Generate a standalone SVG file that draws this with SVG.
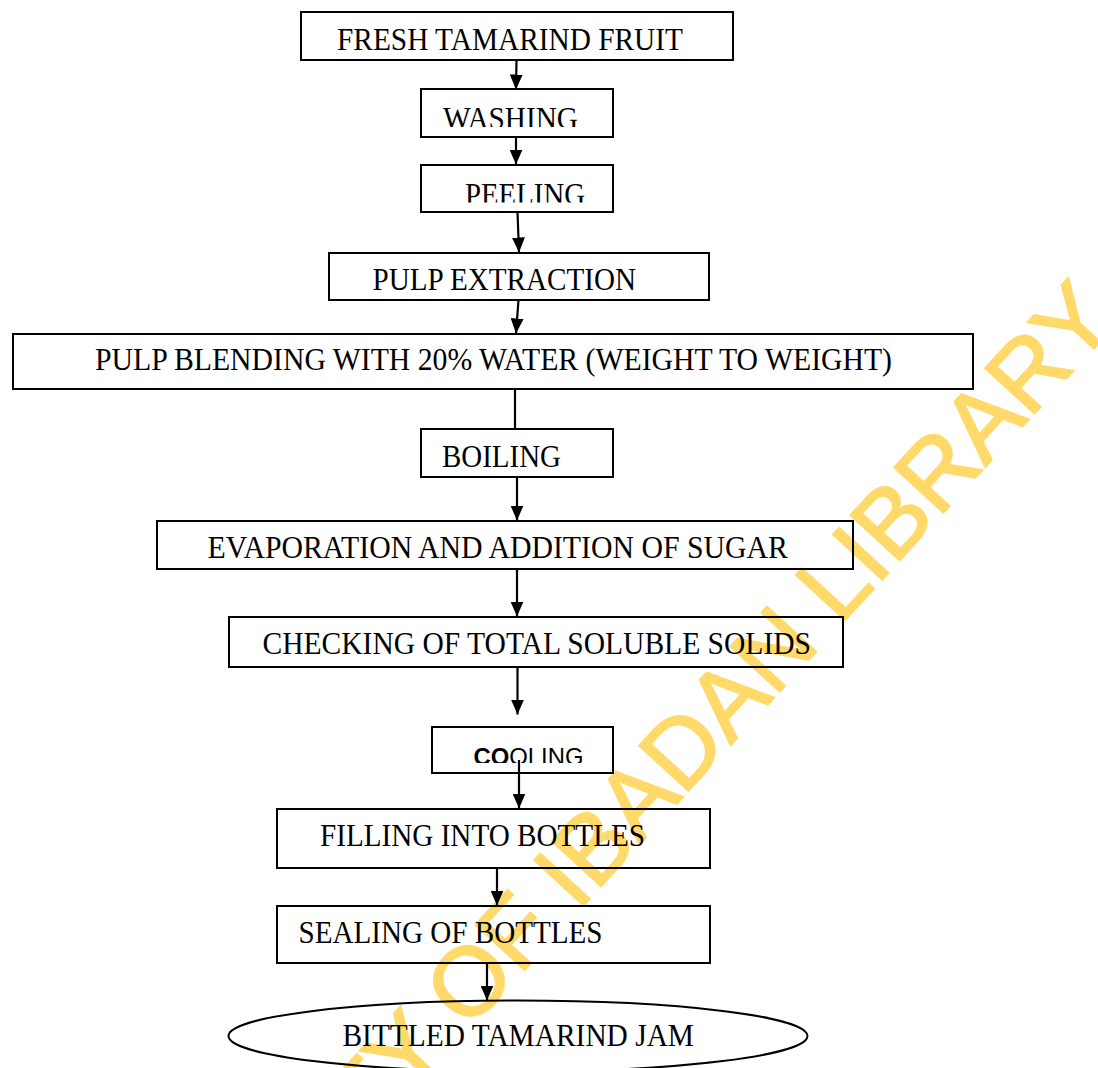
<svg xmlns="http://www.w3.org/2000/svg" width="1098" height="1068" viewBox="0 0 1098 1068">
<style>
.box{fill:none;stroke:#000;stroke-width:2}
.t{font-family:"Liberation Serif","Times New Roman",serif;font-size:31px;fill:#000}
.s{font-family:"Liberation Sans",Arial,sans-serif;font-size:24px;fill:#000}
.c{fill:none;stroke:#000;stroke-width:2.2}
.wm{font-family:"Liberation Sans",Arial,sans-serif;font-size:97px;fill:#FFC000;stroke:#FFC000;stroke-width:2;opacity:0.58}
</style>
<defs>
<marker id="ah" viewBox="0 0 15 13" refX="15" refY="6.5" markerWidth="15" markerHeight="13" markerUnits="userSpaceOnUse" orient="auto">
<path d="M0,0 L15,6.5 L0,13 z" fill="#000"/>
</marker>
<clipPath id="cw"><rect x="421" y="89" width="192" height="38"/></clipPath>
<clipPath id="cp"><rect x="421" y="165" width="192" height="37.5"/></clipPath>
<clipPath id="cc"><rect x="432" y="727" width="181" height="36"/></clipPath>
</defs>
<rect width="1098" height="1068" fill="#fff"/>
<text class="wm" transform="translate(58,1479) rotate(-47.5)">UNIVERSITY OF IBADAN LIBRARY</text>
<g id="connectors">
<line class="c" x1="516.5" y1="60" x2="516" y2="89.5" marker-end="url(#ah)"/>
<line class="c" x1="516" y1="137" x2="516" y2="164.5" marker-end="url(#ah)"/>
<line class="c" x1="517.5" y1="212" x2="519" y2="252.5" marker-end="url(#ah)"/>
<line class="c" x1="518.5" y1="300" x2="516" y2="333.5" marker-end="url(#ah)"/>
<line class="c" x1="515" y1="389" x2="515" y2="429"/>
<line class="c" x1="517" y1="477" x2="517" y2="520.5" marker-end="url(#ah)"/>
<line class="c" x1="517" y1="569" x2="517" y2="616.5" marker-end="url(#ah)"/>
<line class="c" x1="517.5" y1="667" x2="517.5" y2="714.5" marker-end="url(#ah)"/>
<line class="c" x1="519" y1="760" x2="519" y2="808.5" marker-end="url(#ah)"/>
<line class="c" x1="497" y1="868" x2="497" y2="905.5" marker-end="url(#ah)"/>
<line class="c" x1="487" y1="963" x2="487" y2="1000.5" marker-end="url(#ah)"/>
</g>
<g id="n1"><rect class="box" x="301" y="12" width="432" height="48"/><text class="t" x="337" y="50" textLength="346" lengthAdjust="spacingAndGlyphs">FRESH TAMARIND FRUIT</text></g>
<g id="n2"><rect class="box" x="421" y="89" width="192" height="48"/><text class="t" x="443" y="129" textLength="135" lengthAdjust="spacingAndGlyphs" clip-path="url(#cw)">WASHING</text></g>
<g id="n3"><rect class="box" x="421" y="165" width="192" height="47"/><text class="t" x="465" y="205" textLength="120" lengthAdjust="spacingAndGlyphs" clip-path="url(#cp)">PEELING</text></g>
<g id="n4"><rect class="box" x="329" y="253" width="380" height="47"/><text class="t" x="372.5" y="290" textLength="263.5" lengthAdjust="spacingAndGlyphs">PULP EXTRACTION</text></g>
<g id="n5"><rect class="box" x="13" y="334" width="960" height="55"/><text class="t" x="95" y="370" textLength="797" lengthAdjust="spacingAndGlyphs">PULP BLENDING WITH 20% WATER (WEIGHT TO WEIGHT)</text></g>
<g id="n6"><rect class="box" x="421" y="429" width="192" height="48"/><text class="t" x="442" y="467" textLength="119" lengthAdjust="spacingAndGlyphs">BOILING</text></g>
<g id="n7"><rect class="box" x="157" y="521" width="696" height="48"/><text class="t" x="207.5" y="558" textLength="580.5" lengthAdjust="spacingAndGlyphs">EVAPORATION AND ADDITION OF SUGAR</text></g>
<g id="n8"><rect class="box" x="229" y="617" width="614" height="50"/><text class="t" x="262.5" y="653.5" textLength="548.5" lengthAdjust="spacingAndGlyphs">CHECKING OF TOTAL SOLUBLE SOLIDS</text></g>
<g id="n9"><rect class="box" x="432" y="727" width="181" height="46"/><text class="s" x="473.5" y="765" textLength="110" lengthAdjust="spacingAndGlyphs" clip-path="url(#cc)"><tspan font-weight="bold">CO</tspan>OLING</text></g>
<g id="n10"><rect class="box" x="277" y="809" width="433" height="59"/><text class="t" x="320" y="846" textLength="325" lengthAdjust="spacingAndGlyphs">FILLING INTO BOTTLES</text></g>
<g id="n11"><rect class="box" x="277" y="906" width="433" height="57"/><text class="t" x="298.5" y="942.5" textLength="304" lengthAdjust="spacingAndGlyphs">SEALING OF BOTTLES</text></g>
<g id="n12"><ellipse class="box" cx="518" cy="1036" rx="289.5" ry="35.5"/><text class="t" x="342.5" y="1046" textLength="351.5" lengthAdjust="spacingAndGlyphs">BITTLED TAMARIND JAM</text></g>
</svg>
